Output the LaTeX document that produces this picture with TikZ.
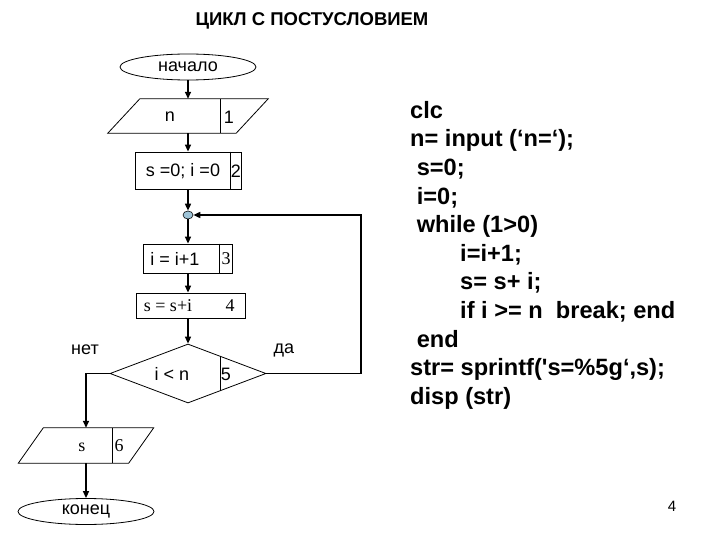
\documentclass[tikz,border=0pt]{standalone}
\usepackage{fontspec}
\setmainfont{Liberation Sans}
\newfontfamily\serifface{Liberation Serif}
\newfontfamily\codeface{Liberation Sans}[Ligatures=TeXOff]
\usetikzlibrary{shapes.geometric,calc,arrows.meta}
\definecolor{jointblue}{RGB}{158,196,216}
\tikzset{
  figfont/.style={font=\fontsize{18}{21}\selectfont},
  figserif/.style={font=\fontsize{18}{21}\selectfont\serifface},
  figtitle/.style={font=\fontsize{18.5}{21}\selectfont\bfseries},
  figcode/.style={font=\fontsize{23.6}{28.6}\selectfont\codeface\bfseries, align=left, inner sep=0pt},
  figbox/.style={draw, line width=0.8pt, inner sep=0pt},
  figframe/.style={inner sep=0pt},
  figterm/.style={figbox, ellipse, minimum width=136pt, minimum height=26pt},
  figjoint/.style={draw, ellipse, fill=jointblue, line width=0.6pt, minimum width=10pt, minimum height=8pt, inner sep=0pt},
  figdecide/.style={figbox, diamond, minimum width=156pt, minimum height=59pt},
  figoutline/.style={line width=0.8pt},
  figarrow/.style={-{Triangle[length=7pt,width=6pt]}, line width=1.5pt},
}
\begin{document}
\begin{tikzpicture}[x=1pt,y=-1pt,figfont]
		\useasboundingbox (0,0) rectangle (720,540);

		% Title
		\node[figtitle] (title) at (312,21) {ЦИКЛ С ПОСТУСЛОВИЕМ};

		% Start and input of n
		\node[figterm] (start) at (188,67) {начало};
		\node[figframe, minimum width=128pt, minimum height=34pt] (in) at (188,116) {};
		\draw[figoutline] ([xshift=16pt]in.north west) -- ([xshift=16pt]in.north east)
		-- ([xshift=-16pt]in.south east) -- ([xshift=-16pt]in.south west) -- cycle;
		\draw[figoutline] ([xshift=32pt]in.north) -- ([xshift=32pt]in.south);
		\node (intxt) at (170,117) {n};
		\node (innum) at (229,117) {1};

		% Initial values
		\node[figbox, minimum width=106pt, minimum height=37pt] (init) at (188,170.5) {};
		\draw[figoutline] ([xshift=-11pt]init.north east) -- ([xshift=-11pt]init.south east);
		\node (inittxt) at (183,171) {s =0; i =0};
		\node (initnum) at (236,171) {2};

		% Loop entry point
		\node[figjoint] (join) at (188,215) {};

		% Loop body
		\node[figbox, minimum width=89pt, minimum height=29pt] (step) at (188,258.5) {};
		\draw[figoutline] ([xshift=-13.5pt]step.north east) -- ([xshift=-13.5pt]step.south east);
		\node (steptxt) at (175,259) {i = i+1};
		\node[figserif] (stepnum) at (226,259) {3};

		\node[figbox, minimum width=109pt, minimum height=25pt] (sum) at (190.5,305.5) {};
		\node[figserif] (sumtxt) at (168,306) {s = s+i};
		\node[figserif] (sumnum) at (230,306) {4};

		% Condition
		\node[figdecide] (test) at (188,373.5) {};
		\draw[figoutline] ($(test.north)!0.41!(test.east)$) -- ($(test.south)!0.41!(test.east)$);
		\node (testtxt) at (172,374) {i < n};
		\node (testnum) at (226,374) {5};
		\node (no) at (85,350) {нет};
		\node (yes) at (284,350) {да};

		% Output and end
		\node[figframe, minimum width=110pt, minimum height=35pt] (out) at (86,445.5) {};
		\draw[figoutline] ([xshift=12.5pt]out.north west) -- ([xshift=12.5pt]out.north east)
		-- ([xshift=-12.5pt]out.south east) -- ([xshift=-12.5pt]out.south west) -- cycle;
		\draw[figoutline] ([xshift=26pt]out.north) -- ([xshift=26pt]out.south);
		\node[figserif] (outtxt) at (82,447) {s};
		\node[figserif] (outnum) at (119,446) {6};
		\node[figterm] (stop) at (86,511.5) {конец};

		% Connectors
		\draw[figarrow] (start) -- (in);
		\draw[figarrow] (in) -- (init);
		\draw[figarrow] (init) -- (join);
		\draw[figarrow] (join) -- (step);
		\draw[figarrow] (step) -- (sum.north -| step);
		\draw[figarrow] (sum.south -| test) -- (test);
		\coordinate (loopturn) at (361,373.5);
		\draw[figarrow] (test.east) -- (loopturn) |- (join);
		\coordinate (noturn) at (86,373.5);
		\draw[figarrow] (test.west) -- (noturn) -- (out);
		\draw[figarrow] (out) -- (stop);

		% Program text
		\node[figcode, anchor=north west] (code) at (410,101) {clc\\
			n= input (‘n=‘);\\
			\hspace*{6.6pt}s=0;\\
			\hspace*{6.6pt}i=0;\\
			\hspace*{6.6pt}while (1>0)\\
			\hspace*{50pt}i=i+1;\\
			\hspace*{50pt}s= s+ i;\\
			\hspace*{50pt}if i >= n\ \ break; end\\
			\hspace*{6.6pt}end\\
			str= sprintf('s=\%5g‘,s);\\
			disp (str)};

		% Page number
		\node[font=\fontsize{15}{18}\selectfont] (page) at (672,506) {4};
\end{tikzpicture}
\end{document}
